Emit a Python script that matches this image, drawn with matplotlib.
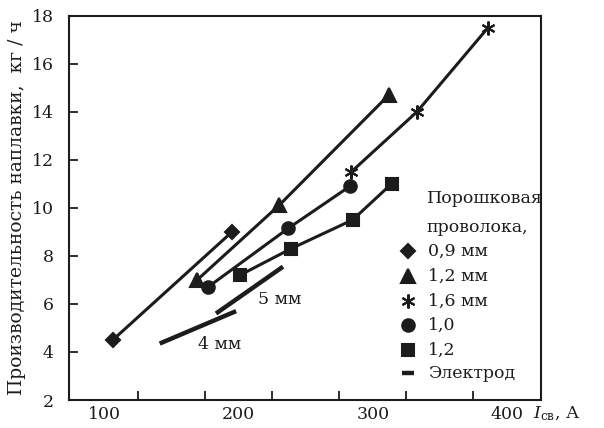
import numpy as np
import matplotlib
matplotlib.use("Agg")
import matplotlib.pyplot as plt
from matplotlib.ticker import FixedLocator, NullFormatter

plt.rcParams['font.family'] = ['DejaVu Serif']
plt.rcParams['mathtext.fontset'] = 'dejavuserif'

INK = '#1c1c1c'
FS = 12.5

# flux-cored wire series (current, A ; deposition rate, kg/h)
wire_09_x = [106, 195]
wire_09_y = [4.5, 9.0]
wire_12_x = [169, 230, 312]
wire_12_y = [7.0, 10.1, 14.7]
wire_16_x = [284, 333, 386]
wire_16_y = [11.5, 14.0, 17.5]
wire_10_x = [177, 237, 283]
wire_10_y = [6.7, 9.15, 10.9]
wire_12b_x = [201, 239, 285, 314]
wire_12b_y = [7.2, 8.3, 9.5, 11.0]

# stick electrodes
electrode_5_x = [183, 233]
electrode_5_y = [5.6, 7.55]
electrode_4_x = [141, 198]
electrode_4_y = [4.35, 5.7]

x_labels = [100, 200, 300, 400]
x_minor = [125, 175, 225, 275, 325, 375]
y_ticks = [2, 4, 6, 8, 10, 12, 14, 16, 18]

legend_labels = ['0,9 мм', '1,2 мм', '1,6 мм', '1,0', '1,2', 'Электрод']

def plot_wire(ax, x, y, marker, ms):
  ax.plot(x, y, color=INK, lw=2.2, marker=marker, ms=ms,
          mfc=INK, mec=INK, mew=1.5, solid_capstyle='butt')

fig = plt.figure(figsize=(6.04, 4.28), dpi=100)
ax = fig.add_axes([0.1142, 0.0654, 0.7815, 0.8981])

plot_wire(ax, wire_09_x, wire_09_y, 'D', 7)
plot_wire(ax, wire_12_x, wire_12_y, '^', 10)
plot_wire(ax, wire_16_x, wire_16_y, (6, 2, 0), 10)
plot_wire(ax, wire_10_x, wire_10_y, 'o', 9)
plot_wire(ax, wire_12b_x, wire_12b_y, 's', 9)

ax.plot(electrode_5_x, electrode_5_y, color=INK, lw=3.2, solid_capstyle='butt')
ax.plot(electrode_4_x, electrode_4_y, color=INK, lw=3.2, solid_capstyle='butt')
ax.text(230.7, 6.2, '5 мм', fontsize=FS, ha='center', va='center', color=INK)
ax.text(186, 4.3, '4 мм', fontsize=FS, ha='center', va='center', color=INK)

ax.set_xlim(73.3, 425.5)
ax.set_ylim(2, 18)

ax.xaxis.set_major_locator(FixedLocator(x_labels))
ax.set_xticklabels([str(v) for v in x_labels])
ax.xaxis.set_minor_locator(FixedLocator(x_minor))
ax.xaxis.set_minor_formatter(NullFormatter())
ax.tick_params(axis='x', which='major', length=0, pad=4, labelsize=FS, colors=INK)
ax.tick_params(axis='x', which='minor', direction='in', length=6.5, width=1.3, colors=INK)

ax.set_yticks(y_ticks)
ax.tick_params(axis='y', direction='in', length=6.5, width=1.3, pad=11, labelsize=FS, colors=INK)

for sp in ax.spines.values():
  sp.set_linewidth(1.5)
  sp.set_color(INK)

ax.set_ylabel('Производительность наплавки,  кг / ч', fontsize=13.5, color=INK, labelpad=4)
ax.text(0.983, -0.036, r'$I_{\mathrm{св}}$, А', transform=ax.transAxes,
        fontsize=FS, ha='left', va='center', color=INK, clip_on=False)

# hand-made legend
lx_mark = 0.718
lx_text = 0.761
ax.text(0.758, 0.525, 'Порошковая', transform=ax.transAxes, fontsize=FS,
        ha='left', va='center', color=INK)
ax.text(0.758, 0.448, 'проволока,', transform=ax.transAxes, fontsize=FS,
        ha='left', va='center', color=INK)
legend_y = [0.388, 0.323, 0.258, 0.195, 0.130, 0.070]
legend_markers = [('D', 7), ('^', 10), ((6, 2, 0), 10), ('o', 9), ('s', 9)]
for i in range(5):
  m, ms = legend_markers[i]
  ax.plot([lx_mark], [legend_y[i]], transform=ax.transAxes, marker=m, ms=ms,
          color=INK, mfc=INK, mec=INK, mew=1.5, clip_on=False)
ax.plot([lx_mark - 0.012, lx_mark + 0.012], [legend_y[5], legend_y[5]],
        transform=ax.transAxes, color=INK, lw=3.2, solid_capstyle='butt')
for i in range(6):
  ax.text(lx_text, legend_y[i], legend_labels[i], transform=ax.transAxes,
          fontsize=FS, ha='left', va='center', color=INK)

fig.savefig('out.png', dpi=100)
